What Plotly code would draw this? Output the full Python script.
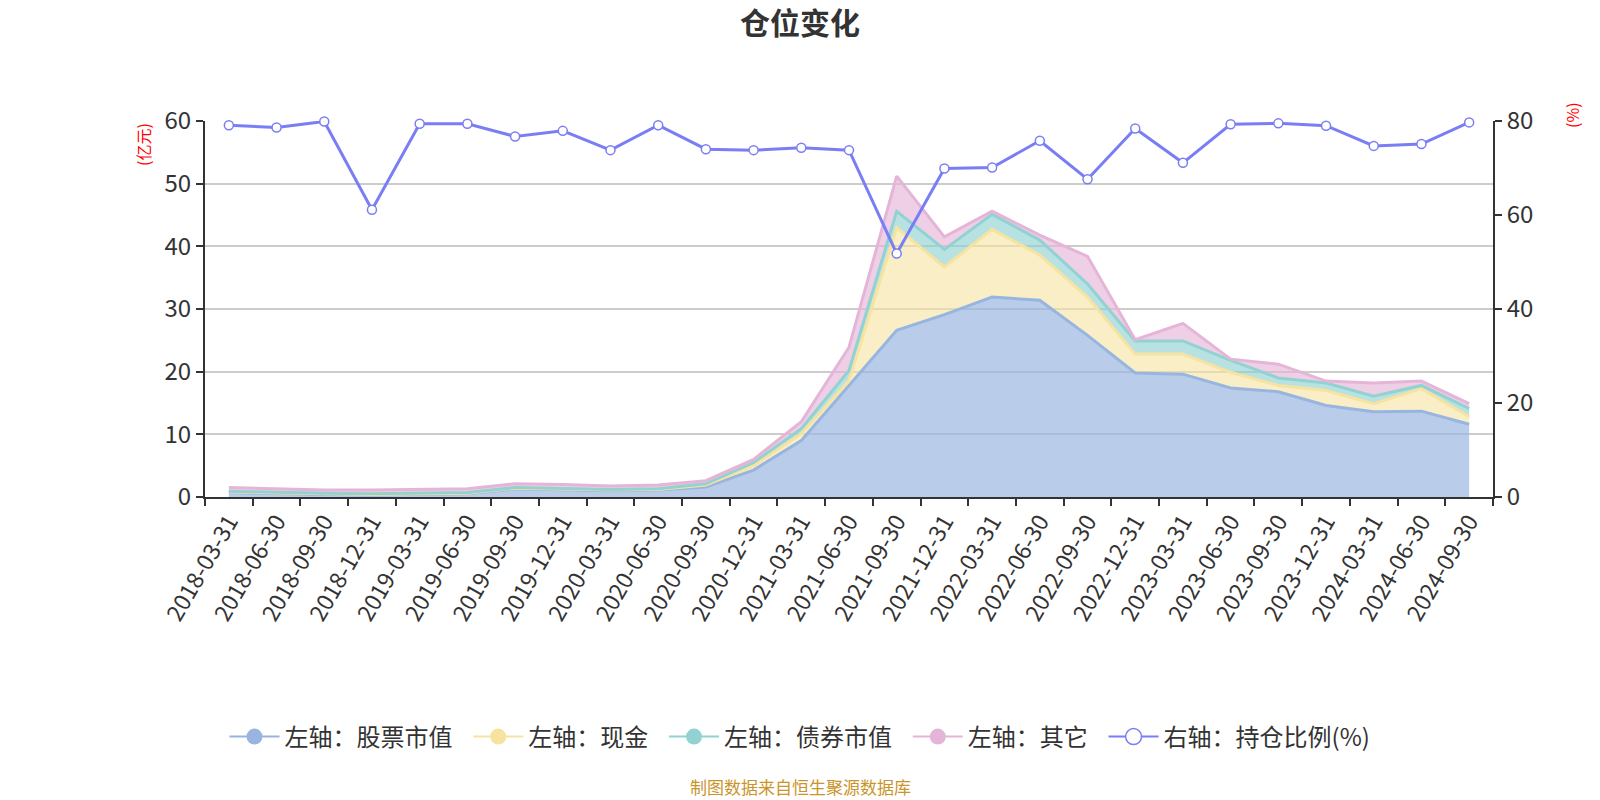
import plotly.graph_objects as go

dates = ["2018-03-31","2018-06-30","2018-09-30","2018-12-31",
         "2019-03-31","2019-06-30","2019-09-30","2019-12-31",
         "2020-03-31","2020-06-30","2020-09-30","2020-12-31",
         "2021-03-31","2021-06-30","2021-09-30","2021-12-31",
         "2022-03-31","2022-06-30","2022-09-30","2022-12-31",
         "2023-03-31","2023-06-30","2023-09-30","2023-12-31",
         "2024-03-31","2024-06-30","2024-09-30"]

# 亿元
stock = [0.7, 0.5, 0.4, 0.3, 0.4, 0.5, 1.3, 1.2, 1.0, 1.1, 1.6, 4.3,
         9.0, 17.8, 26.6, 29.1, 31.9, 31.4, 25.8, 19.8, 19.6, 17.4,
         16.8, 14.6, 13.6, 13.7, 11.6]
cash = [0.1, 0.1, 0.1, 0.1, 0.1, 0.1, 0.1, 0.1, 0.1, 0.1, 0.3, 0.7,
        1.1, 0.8, 16.4, 7.6, 10.8, 7.2, 6.1, 3.0, 3.2, 2.5,
        1.0, 2.4, 1.3, 3.6, 1.2]
bond = [0.1, 0.1, 0.1, 0.1, 0.1, 0.1, 0.1, 0.1, 0.1, 0.1, 0.2, 0.5,
        0.8, 1.6, 2.6, 2.8, 2.4, 2.4, 2.1, 2.1, 2.1, 1.9,
        1.2, 1.2, 1.2, 0.5, 1.3]
other = [0.6, 0.6, 0.5, 0.6, 0.6, 0.6, 0.6, 0.6, 0.55, 0.6, 0.5, 0.5,
         1.1, 3.7, 5.6, 2.0, 0.5, 0.8, 4.4, 0.2, 2.8, 0.2,
         2.2, 0.3, 2.1, 0.7, 0.8]
# %
ratio = [79.1, 78.6, 79.9, 61.1, 79.4, 79.4, 76.7, 77.9, 73.8, 79.1, 74.0, 73.8,
         74.3, 73.8, 51.8, 69.9, 70.1, 75.8, 67.6, 78.4, 71.1, 79.3,
         79.5, 79.0, 74.7, 75.1, 79.7]

series_names = ["左轴：股票市值", "左轴：现金", "左轴：债券市值", "左轴：其它"]
line_colors = ["#98b5e0", "#f6e3a0", "#92d2d2", "#e5b5d8"]
fill_colors = ["rgba(152,181,224,0.68)", "rgba(246,227,160,0.6)",
               "rgba(146,210,210,0.65)", "rgba(229,181,216,0.65)"]
ratio_name = "右轴：持仓比例(%)"
ratio_color = "#7a7ef5"

FONT = "Noto Sans CJK SC"
PAD = "\u00a0\u00a0"
fig = go.Figure()

for name, vals, lc, fc in zip(series_names, [stock, cash, bond, other], line_colors, fill_colors):
    fig.add_trace(go.Scatter(
        x=dates, y=vals, name=name, mode="lines", stackgroup="one",
        line=dict(color=lc, width=3), fillcolor=fc, showlegend=False,
        hoverinfo="skip"))

fig.add_trace(go.Scatter(
    x=dates, y=ratio, name=ratio_name, yaxis="y2", mode="lines+markers",
    line=dict(color=ratio_color, width=3), cliponaxis=False,
    marker=dict(symbol="circle", size=9, color="white",
                line=dict(color=ratio_color, width=1.5)),
    showlegend=False))

# legend entries
for name, lc in zip(series_names, line_colors):
    fig.add_trace(go.Scatter(
        x=[None], y=[None], name=name + PAD, mode="lines+markers",
        line=dict(color=lc, width=2),
        marker=dict(size=18, color=lc)))
fig.add_trace(go.Scatter(
    x=[None], y=[None], name=ratio_name, mode="lines+markers", yaxis="y2",
    line=dict(color=ratio_color, width=2),
    marker=dict(size=18, color="white", line=dict(color=ratio_color, width=1.5))))

fig.update_layout(
    width=1600, height=800,
    margin=dict(l=205, r=107, t=121, b=303, autoexpand=False),
    paper_bgcolor="white", plot_bgcolor="white",
    font=dict(family=FONT, color="#333333"),
    title=dict(text="<b>仓位变化</b>", x=0.5, xanchor="center",
               y=1 - 23 / 800, yanchor="middle", xref="container", yref="container",
               font=dict(size=30, color="#333333", family=FONT)),
    xaxis=dict(type="category", range=[-0.5, 26.5], tickson="boundaries",
               ticks="outside", ticklen=7, tickwidth=2, tickcolor="#333",
               showline=True, linecolor="#333", linewidth=2,
               showgrid=False, tickangle=-60, automargin=False,
               tickfont=dict(size=23, color="#333")),
    yaxis=dict(range=[0, 60], dtick=10, ticks="outside", ticklen=7, tickwidth=2,
               tickcolor="#333", showline=True, linecolor="#333", linewidth=2,
               showgrid=True, gridcolor="#cccccc", gridwidth=1.5, zeroline=False,
               automargin=False, tickfont=dict(size=24, color="#333")),
    yaxis2=dict(range=[0, 80], dtick=20, overlaying="y", side="right",
                ticks="outside", ticklen=7, tickwidth=2, tickcolor="#333",
                showline=True, linecolor="#333", linewidth=2,
                showgrid=False, zeroline=False, automargin=False,
                tickfont=dict(size=24, color="#333")),
    legend=dict(orientation="h", x=(800 - 205) / 1288, xanchor="center",
                y=(497 - 737) / 376, yanchor="middle", traceorder="normal",
                font=dict(size=24, color="#333"), itemsizing="trace",
                itemwidth=50, tracegroupgap=0),
    annotations=[
        dict(text="(亿元)", x=(143 - 205) / 1288, y=(497 - 145) / 376,
             xref="paper", yref="paper", textangle=-90, showarrow=False,
             xanchor="center", yanchor="middle",
             font=dict(size=16, color="red", family=FONT)),
        dict(text="(%)", x=(1572 - 205) / 1288, y=(497 - 115) / 376,
             xref="paper", yref="paper", textangle=-90, showarrow=False,
             xanchor="center", yanchor="middle",
             font=dict(size=16, color="red", family=FONT)),
        dict(text="制图数据来自恒生聚源数据库", x=(800 - 205) / 1288, xref="paper",
             y=(497 - 786) / 376, yref="paper", showarrow=False,
             xanchor="center", yanchor="middle",
             font=dict(size=17, color="#c9952b", family=FONT)),
    ],
)

fig.write_html("out.html")
